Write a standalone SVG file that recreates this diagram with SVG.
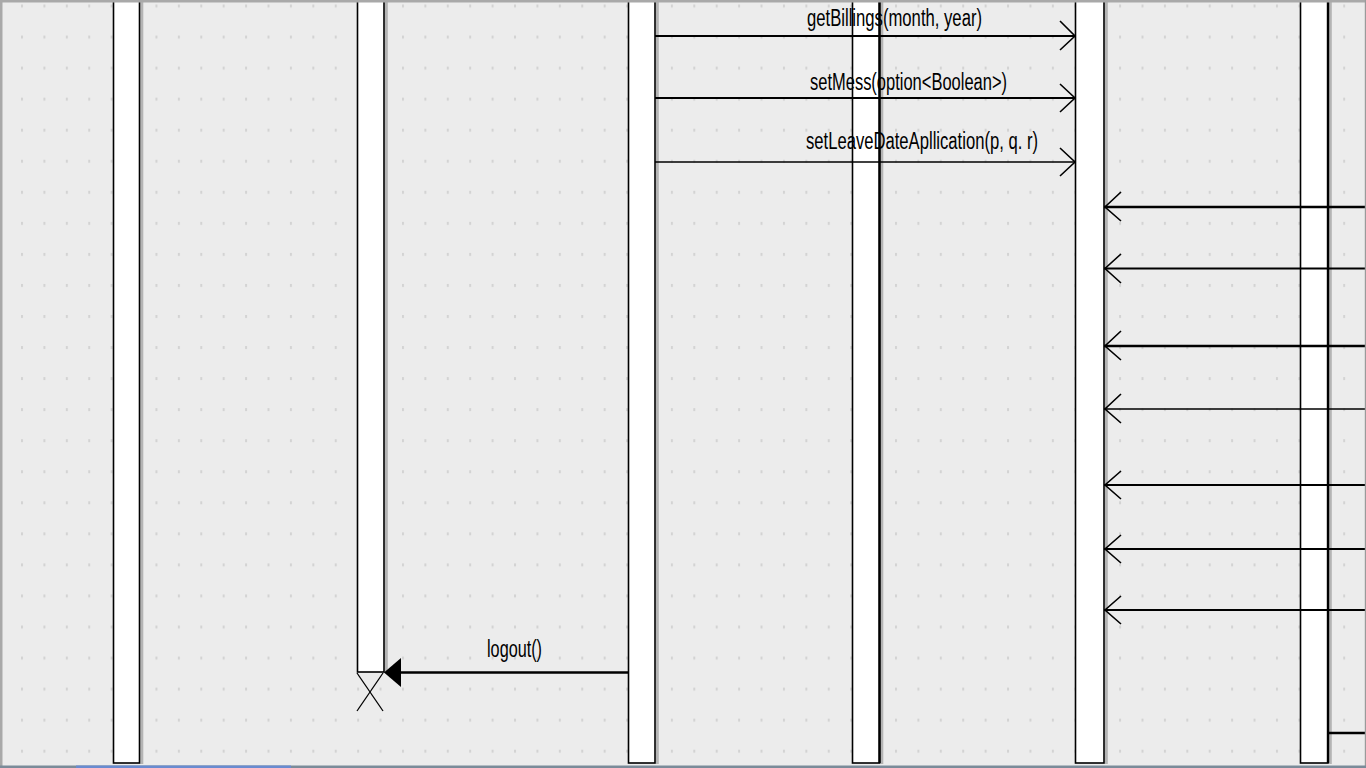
<svg xmlns="http://www.w3.org/2000/svg" width="1366" height="768" viewBox="0 0 1366 768">
<style>
.life{fill:#ffffff;stroke:#000000;stroke-width:1.6}
.shadow{fill:#b4b4b4}
.msg{stroke:#000000;fill:none}
.head{stroke:#000000;stroke-width:1.6;fill:none;stroke-linejoin:miter}
.lbl{font-family:"Liberation Sans",Arial,sans-serif;font-size:23px;fill:#000000}
</style>
<defs>
<pattern id="grid" patternUnits="userSpaceOnUse" x="21" y="4.5" width="22.41" height="31.05">
<rect x="0" y="0" width="2" height="3" fill="#d3d3d3"/>
</pattern>
</defs>
<rect x="0" y="0" width="1366" height="768" fill="#ececec"/>
<rect x="0" y="0" width="1366" height="768" fill="url(#grid)"/>

<g id="lifeline1">
<rect class="shadow" x="140.3" y="-5" width="3" height="769"/>
<rect class="life" x="113.5" y="-5" width="26" height="768"/>
</g>
<g id="lifeline2">
<rect class="shadow" x="384.8" y="-5" width="3" height="678"/>
<rect class="life" x="357.5" y="-5" width="26.5" height="677"/>
</g>
<g id="lifeline3">
<rect class="shadow" x="655.8" y="-5" width="3" height="769"/>
<rect class="life" x="628.5" y="-5" width="26.5" height="768"/>
</g>
<g id="lifeline4">
<rect class="shadow" x="880.3" y="-5" width="3" height="769"/>
<rect class="life" x="852.5" y="-5" width="27" height="768"/>
<line x1="879.5" y1="-5" x2="879.5" y2="763" stroke="#000" stroke-width="2.4"/>
</g>
<g id="lifeline5">
<rect class="shadow" x="1104.8" y="-5" width="3" height="769"/>
<rect class="life" x="1075.5" y="-5" width="28.5" height="768"/>
</g>
<g id="lifeline6">
<rect class="shadow" x="1328.8" y="-5" width="3" height="769"/>
<rect class="life" x="1300.5" y="-5" width="27.5" height="768"/>
<line x1="1328" y1="-5" x2="1328" y2="763" stroke="#000" stroke-width="2.4"/>
</g>

<g id="connectors">
<line class="msg" x1="655" y1="36" x2="1075" y2="36" stroke-width="2"/>
<polyline class="head" points="1060,21 1075,36 1060,50"/>
<line class="msg" x1="655" y1="98" x2="1075" y2="98" stroke-width="2"/>
<polyline class="head" points="1060,84 1075,98 1060,112"/>
<line class="msg" x1="655" y1="162" x2="1075" y2="162" stroke-width="1.3"/>
<polyline class="head" points="1060,148 1075,162 1060,176"/>

<line class="msg" x1="1104" y1="207" x2="1366" y2="207" stroke-width="2.6"/>
<polyline class="head" points="1121,192 1105,207 1121,221"/>
<line class="msg" x1="1104" y1="268.5" x2="1366" y2="268.5" stroke-width="2"/>
<polyline class="head" points="1121,254 1105,268.5 1121,283"/>
<line class="msg" x1="1104" y1="346" x2="1366" y2="346" stroke-width="2.6"/>
<polyline class="head" points="1121,331 1105,346 1121,360"/>
<line class="msg" x1="1104" y1="409" x2="1366" y2="409" stroke-width="1.3"/>
<polyline class="head" points="1121,394 1105,409 1121,423"/>
<line class="msg" x1="1104" y1="485" x2="1366" y2="485" stroke-width="2"/>
<polyline class="head" points="1121,471 1105,485 1121,499"/>
<line class="msg" x1="1104" y1="549" x2="1366" y2="549" stroke-width="2"/>
<polyline class="head" points="1121,535 1105,549 1121,563"/>
<line class="msg" x1="1104" y1="610" x2="1366" y2="610" stroke-width="2"/>
<polyline class="head" points="1121,596 1105,610 1121,624"/>

<line class="msg" x1="1328" y1="733" x2="1366" y2="733" stroke-width="2.6"/>

<line class="msg" x1="628" y1="672.5" x2="398" y2="672.5" stroke-width="2.6"/>
<polygon points="384,672.5 401,658 401,687" fill="#000000"/>
<line x1="357" y1="673" x2="383" y2="711" stroke="#000" stroke-width="1.3"/>
<line x1="383" y1="673" x2="357" y2="711" stroke="#000" stroke-width="1.3"/>
</g>

<g id="labels">
<text class="lbl" x="807" y="26" textLength="175" lengthAdjust="spacingAndGlyphs">getBillings(month, year)</text>
<text class="lbl" x="810" y="89.5" textLength="197" lengthAdjust="spacingAndGlyphs">setMess(option&lt;Boolean&gt;)</text>
<text class="lbl" x="806" y="148.5" textLength="232" lengthAdjust="spacingAndGlyphs">setLeaveDateApllication(p, q. r)</text>
<text class="lbl" x="487" y="657" textLength="55" lengthAdjust="spacingAndGlyphs">logout()</text>
</g>

<g id="frame">
<rect x="0" y="0" width="1366" height="2.5" fill="#a9a9a9"/>
<rect x="0" y="0" width="2.5" height="768" fill="#a9a9a9"/>
<rect x="1364.8" y="0" width="1.2" height="768" fill="#9a9a9a"/>
<rect x="0" y="765.5" width="1366" height="2.5" fill="#7b8b99"/>
<rect x="76" y="765.5" width="215" height="2.5" fill="#6a8bd0"/>
</g>
</svg>
